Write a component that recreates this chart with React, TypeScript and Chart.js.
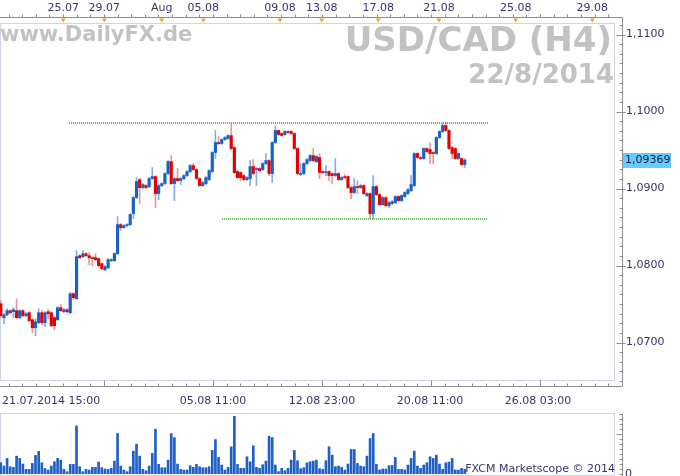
import React, { useEffect, useRef } from 'react';
import { Chart, registerables } from 'chart.js';

Chart.register(...registerables);
Chart.defaults.font.family = '"DejaVu Sans", Verdana, sans-serif';

// ---- data (USD/CAD H4 candles) ----
const opens = [
  1.07504, 1.07322, 1.07361, 1.07413, 1.07400, 1.07413, 1.07322, 1.07413, 1.07348, 1.07387,
  1.07296, 1.07192, 1.07257, 1.07387, 1.07257, 1.07400, 1.07387, 1.07322, 1.07296, 1.07452,
  1.07400, 1.07426, 1.07387, 1.07634, 1.07569, 1.08128, 1.08115, 1.08154, 1.08128, 1.08102,
  1.08102, 1.08089, 1.08024, 1.07946, 1.07972, 1.08063, 1.08063, 1.08154, 1.08531, 1.08492,
  1.08518, 1.08531, 1.08674, 1.08882, 1.09116, 1.09012, 1.09038, 1.09025, 1.09129, 1.09155,
  1.08934, 1.09038, 1.09064, 1.09194, 1.09350, 1.09064, 1.09129, 1.09103, 1.09129, 1.09168,
  1.09220, 1.09298, 1.09246, 1.09129, 1.09038, 1.09064, 1.09116, 1.09220, 1.09467, 1.09597,
  1.09584, 1.09636, 1.09649, 1.09688, 1.09532, 1.09220, 1.09207, 1.09168, 1.09116, 1.09129,
  1.09285, 1.09246, 1.09259, 1.09246, 1.09324, 1.09363, 1.09194, 1.09597, 1.09753, 1.09714,
  1.09701, 1.09740, 1.09740, 1.09714, 1.09519, 1.09181, 1.09194, 1.09324, 1.09363, 1.09428,
  1.09350, 1.09402, 1.09220, 1.09207, 1.09220, 1.09194, 1.09168, 1.09194, 1.09116, 1.09155,
  1.09155, 1.09012, 1.08947, 1.09025, 1.09012, 1.09038, 1.08908, 1.08934, 1.08674, 1.09025,
  1.08921, 1.08791, 1.08882, 1.08778, 1.08804, 1.08817, 1.08895, 1.08843, 1.08895, 1.08934,
  1.08973, 1.09038, 1.09454, 1.09402, 1.09389, 1.09519, 1.09506, 1.09467, 1.09454, 1.09662,
  1.09740, 1.09818, 1.09753, 1.09532, 1.09519, 1.09389, 1.09389, 1.09311,
];
const highs = [
  1.07543, 1.07374, 1.07439, 1.07426, 1.07452, 1.07569, 1.07426, 1.07426, 1.07387, 1.07400,
  1.07309, 1.07309, 1.07439, 1.07413, 1.07400, 1.07426, 1.07400, 1.07335, 1.07465, 1.07491,
  1.07439, 1.07439, 1.07647, 1.07647, 1.08193, 1.08141, 1.08193, 1.08167, 1.08167, 1.08115,
  1.08154, 1.08102, 1.08037, 1.07998, 1.08089, 1.08089, 1.08167, 1.08635, 1.08544, 1.08531,
  1.08544, 1.08674, 1.08895, 1.09142, 1.09129, 1.09064, 1.09051, 1.09142, 1.09272, 1.09168,
  1.09051, 1.09077, 1.09207, 1.09363, 1.09428, 1.09142, 1.09259, 1.09142, 1.09181, 1.09233,
  1.09311, 1.09324, 1.09259, 1.09142, 1.09090, 1.09155, 1.09246, 1.09480, 1.09753, 1.09675,
  1.09649, 1.09675, 1.09701, 1.09844, 1.09545, 1.09233, 1.09220, 1.09181, 1.09155, 1.09363,
  1.09376, 1.09272, 1.09272, 1.09337, 1.09454, 1.09376, 1.09610, 1.09818, 1.09766, 1.09727,
  1.09753, 1.09753, 1.09753, 1.09727, 1.09532, 1.09324, 1.09337, 1.09389, 1.09441, 1.09519,
  1.09428, 1.09454, 1.09233, 1.09298, 1.09233, 1.09207, 1.09389, 1.09207, 1.09155, 1.09181,
  1.09168, 1.09025, 1.09129, 1.09103, 1.09051, 1.09051, 1.08947, 1.08947, 1.09168, 1.09038,
  1.08934, 1.08895, 1.08895, 1.08830, 1.08843, 1.08908, 1.08908, 1.08921, 1.08960, 1.08999,
  1.09168, 1.09467, 1.09467, 1.09415, 1.09532, 1.09532, 1.09597, 1.09480, 1.09675, 1.09753,
  1.09844, 1.09857, 1.09766, 1.09545, 1.09532, 1.09467, 1.09402, 1.09389,
];
const lows = [
  1.07322, 1.07244, 1.07348, 1.07374, 1.07322, 1.07309, 1.07309, 1.07335, 1.07335, 1.07270,
  1.07127, 1.07088, 1.07244, 1.07231, 1.07205, 1.07309, 1.07205, 1.07166, 1.07283, 1.07400,
  1.07387, 1.07387, 1.07374, 1.07556, 1.07556, 1.08089, 1.08102, 1.08115, 1.08011, 1.07998,
  1.08063, 1.07985, 1.07946, 1.07933, 1.07959, 1.08050, 1.08050, 1.08141, 1.08453, 1.08479,
  1.08505, 1.08518, 1.08609, 1.08869, 1.08804, 1.08999, 1.08999, 1.09012, 1.09116, 1.08752,
  1.08856, 1.09025, 1.09051, 1.09181, 1.09051, 1.08843, 1.09090, 1.09051, 1.09116, 1.09155,
  1.09207, 1.09233, 1.09116, 1.09025, 1.09025, 1.09051, 1.09103, 1.09207, 1.09389, 1.09571,
  1.09571, 1.09623, 1.09636, 1.09506, 1.09194, 1.09129, 1.09103, 1.09103, 1.09103, 1.09038,
  1.09181, 1.09038, 1.09220, 1.09233, 1.09311, 1.09168, 1.09077, 1.09584, 1.09688, 1.09675,
  1.09688, 1.09714, 1.09701, 1.09506, 1.09181, 1.09168, 1.09181, 1.09311, 1.09350, 1.09350,
  1.09337, 1.09129, 1.09194, 1.09168, 1.09103, 1.09064, 1.09155, 1.09103, 1.09103, 1.09129,
  1.08999, 1.08869, 1.08934, 1.08934, 1.08999, 1.08921, 1.08895, 1.08609, 1.08609, 1.08908,
  1.08778, 1.08778, 1.08765, 1.08752, 1.08791, 1.08804, 1.08830, 1.08830, 1.08882, 1.08921,
  1.08960, 1.09025, 1.09389, 1.09376, 1.09376, 1.09467, 1.09324, 1.09324, 1.09441, 1.09649,
  1.09727, 1.09740, 1.09506, 1.09389, 1.09376, 1.09376, 1.09298, 1.09272,
];
const closes = [
  1.07348, 1.07361, 1.07413, 1.07387, 1.07426, 1.07322, 1.07413, 1.07348, 1.07374, 1.07283,
  1.07192, 1.07270, 1.07387, 1.07257, 1.07387, 1.07374, 1.07218, 1.07218, 1.07452, 1.07413,
  1.07426, 1.07400, 1.07634, 1.07582, 1.08115, 1.08102, 1.08154, 1.08128, 1.08102, 1.08089,
  1.08076, 1.07998, 1.07959, 1.07985, 1.08076, 1.08076, 1.08154, 1.08531, 1.08492, 1.08518,
  1.08531, 1.08661, 1.08882, 1.09090, 1.09012, 1.09051, 1.09012, 1.09129, 1.09155, 1.08934,
  1.09038, 1.09064, 1.09194, 1.09350, 1.09064, 1.09129, 1.09103, 1.09129, 1.09168, 1.09220,
  1.09298, 1.09246, 1.09129, 1.09038, 1.09077, 1.09142, 1.09233, 1.09467, 1.09597, 1.09584,
  1.09636, 1.09662, 1.09688, 1.09519, 1.09207, 1.09142, 1.09142, 1.09116, 1.09142, 1.09285,
  1.09194, 1.09259, 1.09233, 1.09324, 1.09363, 1.09194, 1.09597, 1.09753, 1.09701, 1.09688,
  1.09740, 1.09727, 1.09714, 1.09519, 1.09194, 1.09194, 1.09324, 1.09376, 1.09428, 1.09363,
  1.09415, 1.09207, 1.09207, 1.09220, 1.09168, 1.09168, 1.09194, 1.09116, 1.09142, 1.09142,
  1.09012, 1.08947, 1.09025, 1.09012, 1.09038, 1.08934, 1.08934, 1.08674, 1.09025, 1.08921,
  1.08791, 1.08882, 1.08778, 1.08817, 1.08830, 1.08895, 1.08843, 1.08908, 1.08947, 1.08986,
  1.09051, 1.09454, 1.09402, 1.09389, 1.09519, 1.09480, 1.09454, 1.09454, 1.09662, 1.09740,
  1.09818, 1.09753, 1.09519, 1.09454, 1.09389, 1.09454, 1.09311, 1.09369,
];
const volumes = [
  34, 24, 47, 22, 20, 54, 47, 30, 14, 14,
  32, 56, 68, 34, 17, 12, 24, 37, 47, 42,
  14, 7, 29, 29, 145, 22, 7, 14, 12, 20,
  20, 36, 19, 15, 14, 17, 39, 122, 24, 12,
  7, 22, 69, 90, 54, 14, 10, 24, 62, 135,
  29, 19, 19, 42, 122, 110, 30, 14, 12, 12,
  25, 20, 29, 22, 19, 19, 22, 71, 104, 50,
  27, 12, 20, 82, 174, 29, 17, 17, 52, 37,
  85, 20, 17, 28, 39, 114, 110, 27, 7, 17,
  10, 17, 42, 71, 40, 16, 19, 34, 37, 39,
  42, 16, 14, 40, 82, 57, 22, 24, 20, 12,
  30, 74, 74, 32, 24, 22, 54, 107, 122, 29,
  12, 15, 15, 25, 26, 50, 14, 14, 12, 27,
  47, 69, 24, 17, 27, 34, 52, 47, 57, 30,
  14, 34, 36, 47, 12, 12, 17, 14,
];

// axis ranges and tick labels (x in candle-slot units)
const xMin = -0.25;
const xMax = 194.6;
const priceMin = 1.065;
const priceMax = 1.111494;
const priceTicks = [1.07, 1.08, 1.09, 1.1, 1.11];
const topTickIdx = [19.8, 32.8, 50.98, 64.16, 88.46, 101.67, 119.6, 138.84, 163.14, 187.41];
const topTickLabels = ['25.07', '29.07', 'Aug', '05.08', '09.08', '13.08', '17.08', '21.08', '25.08', '29.08'];
const bottomTickIdx = [0.4, 67.23, 101.77, 135.99, 170.2, 194.6];
const bottomTickLabels = ['21.07.2014 15:00', '05.08 11:00', '12.08 23:00', '20.08 11:00', '26.08 03:00', ''];
const resistanceLevel = 1.09851;
const resistanceRange = [21.6, 154.4];
const supportLevel = 1.08604;
const supportRange = [70.1, 154.4];
const volumeMax = 184;
const volumeTicks = [0];

const LABEL = '#35356d';
const UP = '#1462c8';
const DOWN = '#e40000';
const UP_WICK = '#86ace4';
const DOWN_WICK = '#f29494';

const mainDecor = {
  id: 'mainDecor',
  beforeDatasetsDraw(chart: any) {
    const { ctx, chartArea: ca } = chart;
    ctx.save();
    ctx.strokeStyle = '#ccd4e6';
    ctx.lineWidth = 1;
    ctx.strokeRect(ca.left + 0.5, ca.top + 0.5, ca.right - ca.left - 1, ca.bottom - ca.top - 1);
    ctx.fillStyle = '#c2c2c2';
    ctx.textBaseline = 'alphabetic';
    ctx.textAlign = 'left';
    ctx.font = 'bold 21px "DejaVu Sans"';
    ctx.fillText('www.DailyFX.de', 0, 41);
    ctx.textAlign = 'right';
    ctx.font = 'bold 34px "DejaVu Sans"';
    ctx.fillText('USD/CAD (H4)', ca.right - 3, 51);
    ctx.font = 'bold 26px "DejaVu Sans"';
    ctx.fillText('22/8/2014', ca.right - 1, 83);
    ctx.restore();
  },
  afterDraw(chart: any) {
    const { ctx, chartArea: ca, scales } = chart;
    const xs = scales.x;
    const ys = scales.y;
    const axisX = Math.round(ca.right) + 7.5;
    const topY = Math.round(ca.top) - 5.5;
    const botY = Math.round(ca.bottom) + 5.5;
    const major = bottomTickIdx[2] - bottomTickIdx[1];
    const minor = major / 8;
    ctx.save();
    ctx.strokeStyle = '#8e8e8e';
    ctx.lineWidth = 1;
    ctx.beginPath();
    ctx.moveTo(0, topY);
    ctx.lineTo(axisX, topY);
    ctx.lineTo(axisX, botY);
    ctx.lineTo(0, botY);
    const start = bottomTickIdx[1] - 2 * major;
    for (let k = 0; k < 80; k++) {
      const v = start + k * minor;
      if (v < xMin || v > xMax) continue;
      const px = Math.round(xs.getPixelForValue(v)) + 0.5;
      const isMajor = k % 8 === 0;
      ctx.moveTo(px, topY);
      ctx.lineTo(px, topY - 3);
      ctx.moveTo(px, botY);
      ctx.lineTo(px, botY - (isMajor ? 6 : 3));
    }
    for (let k = 0; k <= 37; k++) {
      const p = 1.065 + k * 0.00125;
      if (p > priceMax) break;
      const py = Math.round(ys.getPixelForValue(p)) + 0.5;
      if (k % 8 === 4) {
        ctx.moveTo(axisX - 6, py);
        ctx.lineTo(axisX + 3, py);
      } else {
        ctx.moveTo(axisX - 3, py);
        ctx.lineTo(axisX, py);
      }
    }
    ctx.stroke();
    ctx.fillStyle = '#f5a11e';
    topTickIdx.forEach((v) => {
      const px = xs.getPixelForValue(v);
      ctx.beginPath();
      ctx.moveTo(px - 2.5, topY + 1);
      ctx.lineTo(px + 2.5, topY + 1);
      ctx.lineTo(px, topY + 5);
      ctx.closePath();
      ctx.fill();
    });
    const last = closes[closes.length - 1];
    const py = Math.round(ys.getPixelForValue(last));
    ctx.fillStyle = '#66ccff';
    ctx.fillRect(axisX + 0.5, py - 7, 48, 15);
    ctx.fillStyle = '#1c1c40';
    ctx.font = '11px "DejaVu Sans"';
    ctx.textAlign = 'left';
    ctx.textBaseline = 'middle';
    ctx.fillText(last.toFixed(5).replace('.', ','), axisX + 2.5, py + 0.5);
    ctx.restore();
  },
};

const volDecor = {
  id: 'volDecor',
  beforeDatasetsDraw(chart: any) {
    const { ctx, chartArea: ca } = chart;
    ctx.save();
    ctx.strokeStyle = '#ccd4e6';
    ctx.lineWidth = 1;
    ctx.strokeRect(ca.left + 0.5, ca.top + 0.5, ca.right - ca.left - 1, ca.bottom - ca.top + 1);
    ctx.restore();
  },
  afterDraw(chart: any) {
    const { ctx, chartArea: ca, scales } = chart;
    const ys = scales.y;
    const axisX = Math.round(ca.right) + 7.5;
    ctx.save();
    ctx.strokeStyle = '#8e8e8e';
    ctx.lineWidth = 1;
    ctx.beginPath();
    ctx.moveTo(axisX, ca.top + 1);
    ctx.lineTo(axisX, chart.height);
    for (let k = 0; k * 15 <= volumeMax; k++) {
      const py = Math.round(ys.getPixelForValue(k * 15)) + 0.5;
      const len = k === 8 ? 6 : 3;
      ctx.moveTo(axisX - len, py);
      ctx.lineTo(axisX, py);
    }
    ctx.stroke();
    ctx.fillStyle = LABEL;
    ctx.font = '11px "DejaVu Sans"';
    ctx.textAlign = 'right';
    ctx.textBaseline = 'alphabetic';
    ctx.fillText('FXCM Marketscope \u00a9 2014', ca.right, ca.bottom - 2);
    ctx.restore();
  },
};

export default function App() {
  const mainRef = useRef<HTMLCanvasElement>(null);
  const volRef = useRef<HTMLCanvasElement>(null);

  useEffect(() => {
    const idx = opens.map((_, i) => i);
    const up = idx.map((i) => closes[i] >= opens[i]);

    const main = new Chart(mainRef.current as HTMLCanvasElement, {
      type: 'bar',
      data: {
        datasets: [
          {
            type: 'bar',
            label: 'body',
            data: idx.map((i) => ({ x: i, y: [opens[i], closes[i]] })) as any,
            backgroundColor: idx.map((i) => (up[i] ? UP : DOWN)),
            barThickness: 2.5,
            grouped: false,
            order: 1,
            xAxisID: 'x',
            yAxisID: 'y',
          },
          {
            type: 'bar',
            label: 'wick',
            data: idx.map((i) => ({ x: i, y: [lows[i], highs[i]] })) as any,
            backgroundColor: idx.map((i) => (up[i] ? UP_WICK : DOWN_WICK)),
            barThickness: 1,
            grouped: false,
            order: 2,
            xAxisID: 'x',
            yAxisID: 'y',
          },
          {
            type: 'line',
            label: 'resistance',
            data: resistanceRange.map((x) => ({ x, y: resistanceLevel })),
            borderColor: 'rgba(255, 40, 40, 0.72)',
            borderWidth: 2,
            borderDash: [1, 1],
            pointRadius: 0,
            order: 0,
            xAxisID: 'x',
            yAxisID: 'y',
          },
          {
            type: 'line',
            label: 'support',
            data: supportRange.map((x) => ({ x, y: supportLevel })),
            borderColor: 'rgba(0, 150, 0, 0.6)',
            borderWidth: 2,
            borderDash: [1, 1],
            pointRadius: 0,
            order: 0,
            xAxisID: 'x',
            yAxisID: 'y',
          },
        ] as any,
      },
      options: {
        responsive: false,
        animation: false,
        events: [],
        layout: { padding: 0 },
        plugins: { legend: { display: false }, tooltip: { enabled: false } },
        scales: {
          x: {
            type: 'linear',
            position: 'bottom',
            min: xMin,
            max: xMax,
            offset: false,
            grid: { display: false, drawTicks: false, offset: false },
            border: { display: false },
            afterBuildTicks: (s: any) => {
              s.ticks = bottomTickIdx.map((v) => ({ value: v }));
            },
            afterFit: (s: any) => {
              s.height = 29;
              s.paddingLeft = 0;
              s.paddingRight = 0;
            },
            ticks: {
              autoSkip: false,
              maxRotation: 0,
              minRotation: 0,
              align: 'inner',
              padding: 14,
              color: LABEL,
              font: { size: 11 },
              callback: (_v: any, i: number) => bottomTickLabels[i],
            },
          },
          xTop: {
            type: 'linear',
            position: 'top',
            min: xMin,
            max: xMax,
            offset: false,
            grid: { display: false, drawTicks: false, offset: false },
            border: { display: false },
            afterBuildTicks: (s: any) => {
              s.ticks = topTickIdx.map((v) => ({ value: v }));
            },
            afterFit: (s: any) => {
              s.height = 23;
              s.paddingLeft = 0;
              s.paddingRight = 0;
            },
            ticks: {
              autoSkip: false,
              maxRotation: 0,
              minRotation: 0,
              padding: 8,
              color: LABEL,
              font: { size: 11 },
              callback: (_v: any, i: number) => topTickLabels[i],
            },
          },
          y: {
            type: 'linear',
            position: 'right',
            min: priceMin,
            max: priceMax,
            grid: { display: false, drawTicks: false },
            border: { display: false },
            afterBuildTicks: (s: any) => {
              s.ticks = priceTicks.map((v) => ({ value: v }));
            },
            afterFit: (s: any) => {
              s.width = 65;
              s.paddingTop = 0;
              s.paddingBottom = 0;
            },
            ticks: {
              padding: 11,
              color: LABEL,
              font: { size: 11 },
              callback: (v: any) => Number(v).toFixed(4).replace('.', ','),
            },
          },
        } as any,
      },
      plugins: [mainDecor],
    });

    const vol = new Chart(volRef.current as HTMLCanvasElement, {
      type: 'bar',
      data: {
        datasets: [
          {
            label: 'volume',
            data: idx.map((i) => ({ x: i, y: volumes[i] })) as any,
            backgroundColor: '#1f5fc6',
            barThickness: 2,
            grouped: false,
          },
        ],
      },
      options: {
        responsive: false,
        animation: false,
        events: [],
        layout: { padding: { top: 3, bottom: 2, left: 0, right: 0 } },
        plugins: { legend: { display: false }, tooltip: { enabled: false } },
        scales: {
          x: { type: 'linear', min: xMin, max: xMax, offset: false, display: false },
          y: {
            type: 'linear',
            position: 'right',
            min: 0,
            max: volumeMax,
            grid: { display: false, drawTicks: false },
            border: { display: false },
            afterBuildTicks: (s: any) => {
              s.ticks = volumeTicks.map((v) => ({ value: v }));
            },
            afterFit: (s: any) => {
              s.width = 65;
              s.paddingTop = 0;
              s.paddingBottom = 0;
            },
            ticks: {
              padding: 10,
              color: LABEL,
              font: { size: 11 },
              callback: (v: any) => String(v),
            },
          },
        } as any,
      },
      plugins: [volDecor],
    });

    return () => {
      main.destroy();
      vol.destroy();
    };
  }, []);

  return (
    <div style={{ position: 'fixed', left: 0, top: 0, width: 680, height: 476, background: '#ffffff' }}>
      <canvas ref={mainRef} width={680} height={410} style={{ position: 'absolute', left: 0, top: 0 }} />
      <canvas ref={volRef} width={680} height={66} style={{ position: 'absolute', left: 0, top: 410 }} />
    </div>
  );
}
